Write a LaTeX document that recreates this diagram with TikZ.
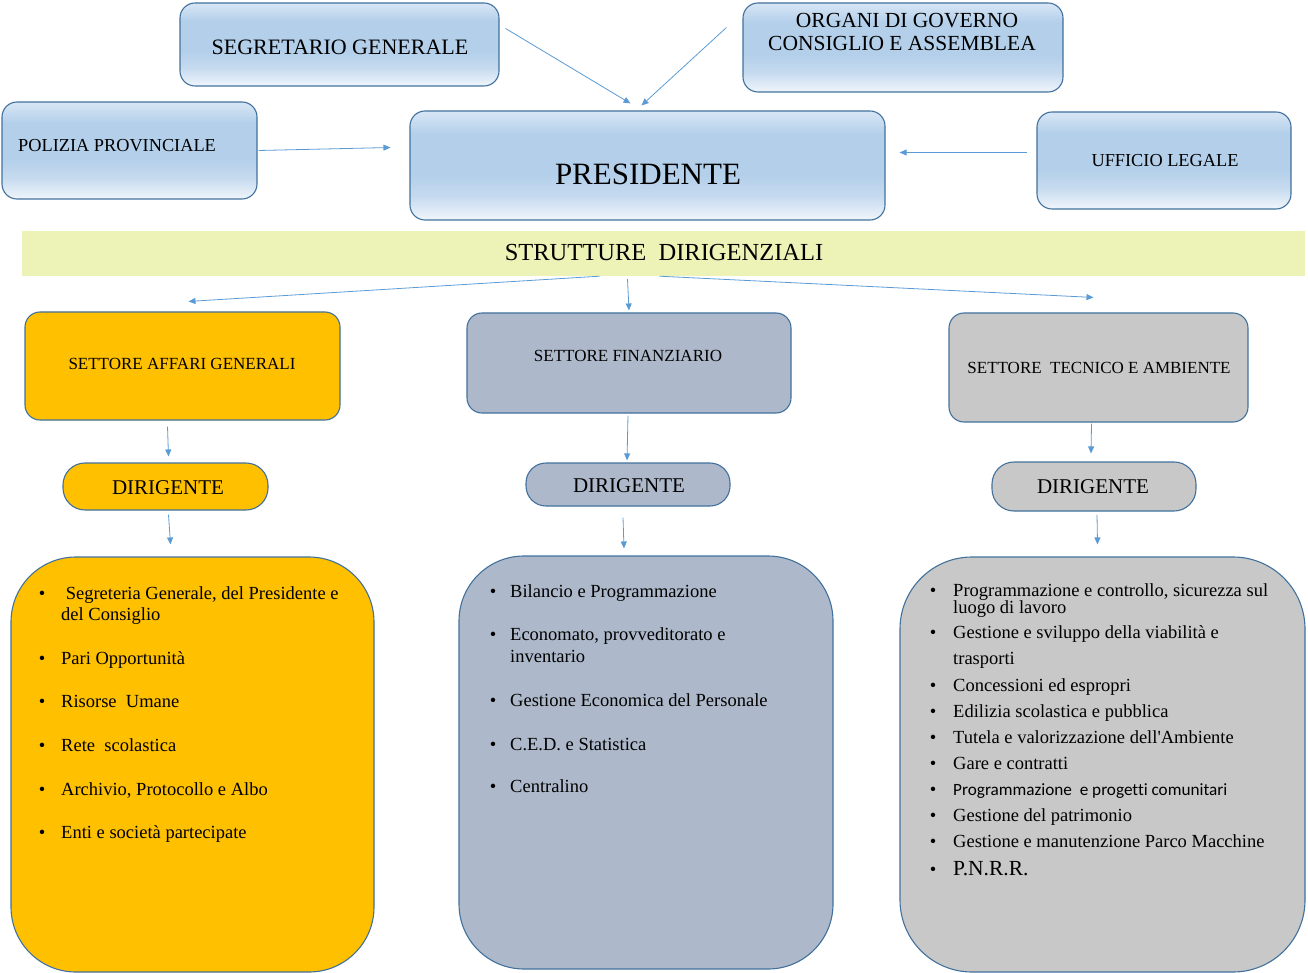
\documentclass[tikz,border=0pt]{standalone}
\usepackage{fontspec}
\setmainfont{Liberation Serif}
\newfontfamily\calib[Ligatures=NoCommon]{Carlito}
\usetikzlibrary{calc,arrows.meta}
\definecolor{bordc}{HTML}{41719C}
\definecolor{arrc}{HTML}{5B9BD5}
\definecolor{gtop}{HTML}{D8E6F5}
\definecolor{gmid}{HTML}{B3CFEA}
\definecolor{gbot}{HTML}{F0F5FB}
\definecolor{yell}{HTML}{FFC000}
\definecolor{bgray}{HTML}{ADB9CA}
\definecolor{lgray}{HTML}{C8C8C8}
\definecolor{bandc}{HTML}{EDF2B6}
\pgfdeclareverticalshading{bluegrad}{100bp}{color(0bp)=(gbot); color(25bp)=(gbot); color(36bp)=(gmid!70!gbot); color(46bp)=(gmid); color(64bp)=(gmid); color(75bp)=(gtop); color(100bp)=(gtop)}
\tikzset{
  box/.style={draw=bordc, line width=1.1pt, inner sep=0pt},
  bluebox/.style={box, rounded corners=15pt, shading=bluegrad},
  setbox/.style={box, rounded corners=15pt},
  dirbox/.style={box, rounded corners=22pt},
  bigbox/.style={box, rounded corners=65pt},
  arr/.style={draw=arrc, line width=0.8pt, -{Triangle[length=7pt,width=6pt]}},
  txt/.style={inner sep=0pt, text=black},
  item/.style={txt, anchor=base west, font=\fontsize{18.5}{20}\selectfont},
  bul/.style={txt, anchor=base, font=\fontsize{18.5}{20}\selectfont},
}
\begin{document}
\begin{tikzpicture}[x=1pt,y=-1pt]
\useasboundingbox (0,0) rectangle (1308,973);
\clip (0,0) rectangle (1308,973);
% top boxes
\node[bluebox, minimum width=319pt, minimum height=83pt] (seg) at (339.5,44.5) {};
\node[bluebox, minimum width=320pt, minimum height=89pt] (org) at (903,47.5) {};
\node[bluebox, minimum width=255pt, minimum height=97pt] (pol) at (129.5,150.5) {};
\node[bluebox, minimum width=475pt, minimum height=109pt] (pres) at (647.5,165.5) {};
\node[bluebox, minimum width=254pt, minimum height=97pt] (uff) at (1164,160.5) {};
\node[txt, font=\fontsize{22}{24}\selectfont] (segT) at (340,47) {SEGRETARIO GENERALE};
\node[txt, font=\fontsize{21.5}{22}\selectfont] (orgT1) at (907,21) {ORGANI DI GOVERNO};
\node[txt, font=\fontsize{21.5}{22}\selectfont] (orgT2) at (902,43) {CONSIGLIO E ASSEMBLEA};
\node[txt, font=\fontsize{18.3}{20}\selectfont, anchor=west] (polT) at (18,146) {POLIZIA PROVINCIALE};
\node[txt, font=\fontsize{31}{33}\selectfont] (presT) at (648,174) {PRESIDENTE};
\node[txt, font=\fontsize{18.3}{20}\selectfont] (uffT) at (1165,161) {UFFICIO LEGALE};
% band
\node[fill=bandc, inner sep=0pt, minimum width=1283pt, minimum height=45pt] (band) at (663.5,253.5) {};
\node[txt, font=\fontsize{24.5}{26}\selectfont] (bandT) at (664,253) {STRUTTURE \ DIRIGENZIALI};
% settori
\node[setbox, fill=yell, minimum width=315pt, minimum height=108pt] (s1) at (182.5,366) {};
\node[setbox, fill=bgray, minimum width=324pt, minimum height=100pt] (s2) at (629,363) {};
\node[setbox, fill=lgray, minimum width=299pt, minimum height=109pt] (s3) at (1098.5,367.5) {};
\node[txt, font=\fontsize{17}{19}\selectfont] (s1T) at (182,364) {SETTORE AFFARI GENERALI};
\node[txt, font=\fontsize{17}{19}\selectfont] (s2T) at (628,356) {SETTORE FINANZIARIO};
\node[txt, font=\fontsize{17}{19}\selectfont] (s3T) at (1099,368) {SETTORE \ TECNICO E AMBIENTE};
% dirigenti
\node[dirbox, fill=yell, minimum width=205pt, minimum height=47pt] (d1) at (165.5,486.5) {};
\node[dirbox, fill=bgray, minimum width=204pt, minimum height=43pt, rounded corners=20pt] (d2) at (628,484.5) {};
\node[dirbox, fill=lgray, minimum width=204pt, minimum height=49pt] (d3) at (1094,486.5) {};
\node[txt, font=\fontsize{21}{23}\selectfont] (d1T) at (168,488) {DIRIGENTE};
\node[txt, font=\fontsize{21}{23}\selectfont] (d2T) at (629,486) {DIRIGENTE};
\node[txt, font=\fontsize{21}{23}\selectfont] (d3T) at (1093,487) {DIRIGENTE};
% big boxes
\node[bigbox, fill=yell, minimum width=363pt, minimum height=415pt] (b1) at (192.5,764.5) {};
\node[bigbox, fill=bgray, minimum width=374pt, minimum height=413pt] (b2) at (646,762.5) {};
\node[bigbox, fill=lgray, minimum width=405pt, minimum height=415pt, rounded corners=72pt] (b3) at (1102.5,764.5) {};
% left list
\foreach \t/\yy [count=\i] in {{\ Segreteria Generale, del Presidente e}/599, {Pari Opportunità}/664, {Risorse \ Umane}/707, {Rete \ scolastica}/751, {Archivio, Protocollo e Albo}/795, {Enti e società partecipate}/838}{
  \node[bul] (lb\i) at (42,\yy) {•};
  \node[item] (li\i) at (61,\yy) {\t};
}
\node[item] (li1b) at (61,620) {del Consiglio};
% middle list
\foreach \t/\yy [count=\i] in {{Bilancio e Programmazione}/597, {Economato, provveditorato e}/640, {Gestione Economica del Personale}/706, {C.E.D. e Statistica}/750, {Centralino}/792}{
  \node[bul] (mb\i) at (493,\yy) {•};
  \node[item] (mi\i) at (510,\yy) {\t};
}
\node[item] (mi2b) at (510,662) {inventario};
% right list
\foreach \t/\yy [count=\i] in {{Programmazione e controllo, sicurezza sul}/596, {Gestione e sviluppo della viabilità e}/638, {Concessioni ed espropri}/691, {Edilizia scolastica e pubblica}/717, {Tutela e valorizzazione dell\textquotesingle Ambiente}/743, {Gare e contratti}/769, {Gestione del patrimonio}/821, {Gestione e manutenzione Parco Macchine}/847}{
  \node[bul] (rb\i) at (933,\yy) {•};
  \node[item] (ri\i) at (953,\yy) {\t};
}
\node[item] (ri1b) at (953,613) {luogo di lavoro};
\node[item] (ri2b) at (953,664) {trasporti};
\node[bul] (rbs) at (933,795) {•};
\node[item, font=\calib\fontsize{17.2}{19}\selectfont] (ris) at (953,795) {Programmazione \ e progetti comunitari};
\node[bul] (rbp) at (933,875) {•};
\node[item, font=\fontsize{21.5}{23}\selectfont] (rip) at (953,875) {P.N.R.R.};
% arrows top
\draw[arr] ([xshift=6pt,yshift=16pt]seg.east) -- ([xshift=-17pt,yshift=7pt]pres.north);
\draw[arr] ([xshift=-16pt,yshift=20pt]org.west) -- ([xshift=-6pt,yshift=5pt]pres.north);
\draw[arr] ([xshift=1pt]pol.east) -- ([xshift=-19pt,yshift=18pt]pres.west);
\draw[arr] ([xshift=-9pt,yshift=8pt]uff.west) -- ([xshift=14pt,yshift=13pt]pres.east);
% arrows from band
\draw[arr] ([xshift=-64pt]band.south) -- ([xshift=6pt,yshift=10pt]s1.north);
\draw[arr] ([xshift=-36pt,yshift=-3pt]band.south) -- ([yshift=2pt]s2.north);
\draw[arr] ([xshift=-4pt]band.south) -- ([xshift=-5pt,yshift=15pt]s3.north);
% settore -> dirigente
\draw[arr] ([xshift=-15pt,yshift=-6pt]s1.south) -- ([xshift=3pt,yshift=6pt]d1.north);
\draw[arr] ([xshift=-1pt,yshift=-2pt]s2.south) -- ([xshift=-1pt,yshift=2pt]d2.north);
\draw[arr] ([xshift=-7pt,yshift=-1pt]s3.south) -- ([xshift=-3pt,yshift=8pt]d3.north);
% dirigente -> lists
\draw[arr] ([xshift=3pt,yshift=-4pt]d1.south) -- ([xshift=-22pt,yshift=12pt]b1.north);
\draw[arr] ([xshift=-5pt,yshift=-11pt]d2.south) -- ([xshift=-22pt,yshift=7pt]b2.north);
\draw[arr] ([xshift=3pt,yshift=-3pt]d3.south) -- ([xshift=-5pt,yshift=12pt]b3.north);
\end{tikzpicture}
\end{document}
